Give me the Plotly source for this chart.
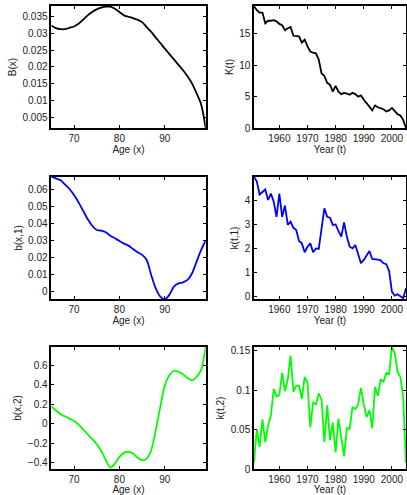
import plotly.graph_objects as go
from plotly.subplots import make_subplots

ages = list(range(65, 100))
years = list(range(1951, 2006))

B_x = [0.0323, 0.0315, 0.0312, 0.0312, 0.0316, 0.0320, 0.0328, 0.0340, 0.0353, 0.0363,
       0.0371, 0.0376, 0.0379, 0.0379, 0.0373, 0.0363, 0.0353, 0.0349, 0.0345, 0.0340,
       0.0333, 0.0318, 0.0304, 0.0287, 0.0271, 0.0254, 0.0238, 0.0222, 0.0206, 0.0190,
       0.0172, 0.0150, 0.0121, 0.0088, 0.0018]

K_t = [19.4, 18.8, 18.4, 18.4, 16.7, 17.1, 17.1, 17.2, 17.0, 16.6,
       16.4, 15.6, 15.9, 16.1, 14.7, 14.7, 14.6, 13.6, 14.1, 13.0,
       12.2, 12.0, 11.9, 10.9, 8.7, 8.3, 7.2, 6.9, 5.8, 6.7,
       5.8, 5.4, 5.6, 5.5, 5.3, 5.6, 5.4, 5.0, 5.2, 4.5,
       4.0, 3.4, 2.8, 3.6, 3.3, 3.2, 3.0, 2.65, 2.8, 3.2,
       2.65, 2.2, 2.0, 1.3, 0.0]

b_x1 = [0.0672, 0.0662, 0.0652, 0.0627, 0.0600, 0.0565, 0.0522, 0.0474, 0.0425, 0.0386,
        0.0361, 0.0357, 0.0348, 0.0328, 0.0313, 0.0297, 0.0282, 0.0270, 0.0250, 0.0231,
        0.0216, 0.0186, 0.0099, 0.0021, -0.0027, -0.0042, -0.0017, 0.0031, 0.0050, 0.0056,
        0.0070, 0.0109, 0.0177, 0.0245, 0.0300]

k_t1 = [5.0, 4.8, 4.26, 4.35, 4.47, 4.03, 4.3, 3.96, 3.33, 4.3,
        3.33, 3.8, 2.99, 3.13, 2.87, 2.78, 2.32, 2.22, 1.85, 2.08,
        2.22, 1.85, 2.01, 1.99, 2.92, 3.68, 3.33, 3.29, 2.99, 3.01,
        2.74, 2.5, 3.1, 2.5, 2.08, 2.01, 2.15, 1.74, 1.39, 1.53,
        1.71, 1.9, 1.57, 1.57, 1.54, 1.51, 1.39, 1.35, 1.07, 0.21,
        0.04, 0.1, 0.0, -0.07, 0.35]

b_x2 = [0.177, 0.137, 0.096, 0.075, 0.051, 0.027, -0.010, -0.058, -0.109, -0.157,
        -0.212, -0.280, -0.375, -0.450, -0.410, -0.341, -0.300, -0.290, -0.307, -0.348,
        -0.375, -0.358, -0.273, -0.068, 0.171, 0.392, 0.495, 0.539, 0.532, 0.505,
        0.468, 0.444, 0.480, 0.550, 0.790]

k_t2 = [0.009, 0.050, 0.028, 0.063, 0.034, 0.055, 0.068, 0.102, 0.092, 0.094,
        0.122, 0.099, 0.114, 0.144, 0.098, 0.106, 0.106, 0.089, 0.117, 0.110,
        0.053, 0.085, 0.082, 0.096, 0.088, 0.034, 0.081, 0.037, 0.059, 0.021,
        0.064, 0.040, 0.016, 0.052, 0.051, 0.079, 0.076, 0.082, 0.103, 0.082,
        0.066, 0.075, 0.052, 0.104, 0.093, 0.114, 0.111, 0.122, 0.121, 0.155,
        0.147, 0.123, 0.117, 0.091, 0.008]

age_ticks = [70, 80, 90]
year_ticks = [1960, 1970, 1980, 1990, 2000]

fig = make_subplots(rows=3, cols=2)

panels = [
    (1, 1, ages, B_x, "black", "B(x)", "Age (x)", [65, 99], [0.0018, 0.0381],
     [0.005, 0.01, 0.015, 0.02, 0.025, 0.03, 0.035],
     ["0.005", "0.01", "0.015", "0.02", "0.025", "0.03", "0.035"], True),
    (1, 2, years, K_t, "black", "K(t)", "Year (t)", [1951, 2005], [0, 19.45],
     [0, 5, 10, 15], ["0", "5", "10", "15"], False),
    (2, 1, ages, b_x1, "#0000ff", "b(x,1)", "Age (x)", [65, 99], [-0.0041, 0.067],
     [0, 0.01, 0.02, 0.03, 0.04, 0.05, 0.06],
     ["0", "0.01", "0.02", "0.03", "0.04", "0.05", "0.06"], True),
    (2, 2, years, k_t1, "#0000ff", "k(t,1)", "Year (t)", [1951, 2005], [-0.1, 4.99],
     [0, 1, 2, 3, 4], ["0", "1", "2", "3", "4"], False),
    (3, 1, ages, b_x2, "#00ff00", "b(x,2)", "Age (x)", [65, 99], [-0.465, 0.785],
     [-0.4, -0.2, 0, 0.2, 0.4, 0.6],
     ["\u22120.4", "\u22120.2", "0", "0.2", "0.4", "0.6"], True),
    (3, 2, years, k_t2, "#00ff00", "k(t,2)", "Year (t)", [1951, 2005], [0, 0.155],
     [0, 0.05, 0.1, 0.15], ["0", "0.05", "0.1", "0.15"], False),
]

xdom = {1: [51.3 / 407, 205.7 / 407], 2: [254 / 407, 406 / 407]}
ydom = {1: [1 - 128 / 495, 1 - 6 / 495],
        2: [1 - 299 / 495, 1 - 177 / 495],
        3: [1 - 469 / 495, 1 - 347 / 495]}

font = dict(family="Liberation Sans, Arial, sans-serif", size=10, color="#222222")

for (r, c, xs, ys, col, ylab, xlab, xr, yr, yt, ytt, smooth) in panels:
    fig.add_trace(go.Scatter(x=xs, y=ys, mode="lines",
                             line=dict(color=col, width=1.8,
                                       shape="spline" if smooth else "linear",
                                       smoothing=0.8),
                             showlegend=False, hoverinfo="skip"),
                  row=r, col=c)
    axstyle = dict(showline=True, linecolor="black", linewidth=1.5, mirror="ticks",
                   ticks="inside", ticklen=3, tickwidth=1, tickcolor="black",
                   showgrid=False, zeroline=False, automargin=False,
                   tickfont=font)
    fig.update_xaxes(range=xr, tickvals=age_ticks if c == 1 else year_ticks,
                     title=dict(text=xlab, font=font, standoff=2),
                     domain=xdom[c], row=r, col=c, **axstyle)
    fig.update_yaxes(range=yr, tickvals=yt, ticktext=ytt,
                     title=dict(text=ylab, font=font, standoff=4),
                     domain=ydom[r], row=r, col=c, **axstyle)

fig.update_layout(width=407, height=495, margin=dict(l=0, r=0, t=0, b=0),
                  plot_bgcolor="white", paper_bgcolor="white", font=font)

fig.write_html("out.html")
